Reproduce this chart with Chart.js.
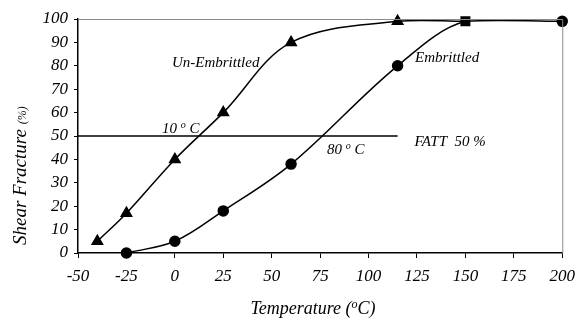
<!DOCTYPE html>
<html>
<head>
<meta charset="utf-8">
<script src="https://cdn.jsdelivr.net/npm/chart.js@4.4.0/dist/chart.umd.min.js"></script>
<style>
  html, body { margin: 0; padding: 0; background: #fff; }
  #wrap { width: 583px; height: 320px; }
</style>
</head>
<body>
<div id="wrap"><canvas id="myChart" width="583" height="320"></canvas></div>
<script>
// data
const unEmbTemps = [-40, -25, 0, 25, 60, 115, 150];
const unEmbShear = [5, 17, 40, 60, 90, 99, 99];
const embTemps = [-25, 0, 25, 60, 115, 150, 200];
const embShear = [0, 5, 18, 38, 80, 99, 99];
const fattTemps = [-50, 115];
const fattShear = [50, 50];
const commonTemp = 150; // both curves meet here (square marker)

// text notes, placed in data coordinates (left edge, baseline)
const notes = [
  { parts: [['Un-Embrittled', 15, 0]], x: -1.5, y: 79.5 },
  { parts: [['Embrittled', 15, 0]], x: 124, y: 81.6 },
  { parts: [['10 ', 15, 0], ['o', 10, 5], [' C', 15, 0]], x: -6.6, y: 51.2 },
  { parts: [['80 ', 15, 0], ['o', 10, 5], [' C', 15, 0]], x: 78.5, y: 42.2 },
  { parts: [['FATT  50 %', 15, 0]], x: 123.7, y: 45.8 }
];

const serif = "'Liberation Serif', 'DejaVu Serif', serif";

function toPoints(xs, ys) {
  return xs.map((x, i) => ({ x: x, y: ys[i] }));
}

function drawParts(c, parts, x, y) {
  parts.forEach(p => {
    c.font = 'italic ' + p[1] + 'px ' + serif;
    c.fillText(p[0], x, y - p[2]);
    x += c.measureText(p[0]).width;
  });
}

const notesPlugin = {
  id: 'notes',
  afterDraw(chart) {
    const c = chart.ctx;
    const xs = chart.scales.x, ys = chart.scales.y;
    const a = chart.chartArea;
    c.save();
    // top and right frame lines (grey)
    c.strokeStyle = '#8a8a8a';
    c.lineWidth = 1;
    c.beginPath();
    c.moveTo(a.left, a.top + 0.5);
    c.lineTo(a.right + 0.5, a.top + 0.5);
    c.lineTo(a.right + 0.5, a.bottom);
    c.stroke();

    c.fillStyle = '#000';
    c.textBaseline = 'alphabetic';
    c.textAlign = 'left';
    notes.forEach(n => {
      drawParts(c, n.parts, xs.getPixelForValue(n.x), ys.getPixelForValue(n.y));
    });

    // x axis title
    const xt = [['Temperature (', 18, 0], ['o', 12, 6], ['C)', 18, 0]];
    let w = 0;
    xt.forEach(p => { c.font = 'italic ' + p[1] + 'px ' + serif; w += c.measureText(p[0]).width; });
    drawParts(c, xt, 313 - w / 2, 314);

    // y axis title, rotated
    c.translate(26, 245);
    c.rotate(-Math.PI / 2);
    drawParts(c, [['Shear Fracture ', 19, 0], ['(%)', 12, 0]], 0, 0);
    c.restore();
  }
};

const ctx = document.getElementById('myChart').getContext('2d');
const myChart = new Chart(ctx, {
  type: 'scatter',
  data: {
    datasets: [{
      label: 'Un-Embrittled',
      data: toPoints(unEmbTemps, unEmbShear),
      showLine: true,
      tension: 0.35,
      borderColor: '#000',
      backgroundColor: '#000',
      borderWidth: 1.5,
      pointStyle: c => (c.raw && c.raw.x === commonTemp ? 'rect' : 'triangle'),
      pointRadius: 6,
      clip: false
    }, {
      label: 'Embrittled',
      data: toPoints(embTemps, embShear),
      showLine: true,
      tension: 0.35,
      borderColor: '#000',
      backgroundColor: '#000',
      borderWidth: 1.5,
      pointStyle: c => (c.raw && c.raw.x === commonTemp ? 'rect' : 'circle'),
      pointRadius: 5,
      clip: false
    }, {
      label: 'FATT 50 %',
      data: toPoints(fattTemps, fattShear),
      showLine: true,
      tension: 0,
      borderColor: '#000',
      borderWidth: 1.3,
      pointRadius: 0
    }]
  },
  options: {
    responsive: false,
    animation: false,
    layout: { padding: { left: 0, right: 14, top: 19, bottom: 0 } },
    plugins: {
      legend: { display: false },
      tooltip: { enabled: false }
    },
    scales: {
      x: {
        type: 'linear',
        min: -50,
        max: 200,
        afterFit: s => { s.height = 67; },
        border: { color: '#000', width: 1.5 },
        grid: { drawOnChartArea: false, color: '#000', tickLength: 5 },
        ticks: {
          stepSize: 25,
          padding: 8,
          color: '#000',
          font: { family: serif, size: 17, style: 'italic' }
        }
      },
      y: {
        min: 0,
        max: 100,
        afterFit: s => { s.width = 78; },
        border: { color: '#000', width: 1.5 },
        grid: { drawOnChartArea: false, color: '#000', tickLength: 4 },
        ticks: {
          stepSize: 10,
          padding: 6,
          color: '#000',
          font: { family: serif, size: 17, style: 'italic' }
        }
      }
    }
  },
  plugins: [notesPlugin]
});
</script>
</body>
</html>
